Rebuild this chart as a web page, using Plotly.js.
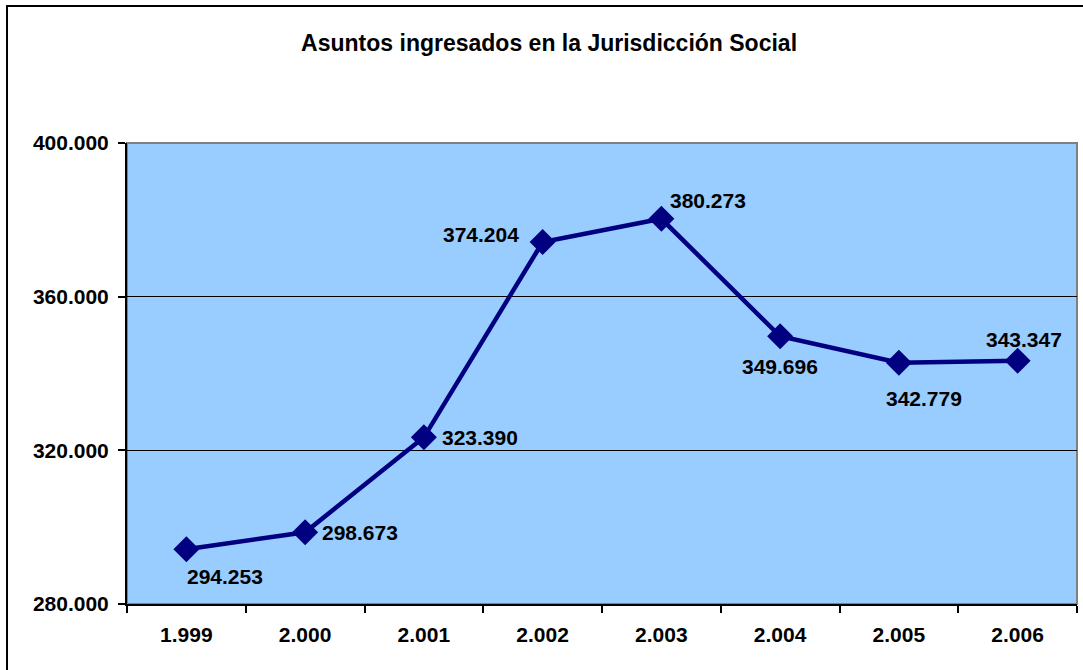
<!DOCTYPE html>
<html>
<head>
<meta charset="utf-8">
<script src="https://cdn.plot.ly/plotly-3.0.1.min.js"></script>
<style>html,body{margin:0;padding:0;background:#fff;}#chart{width:1083px;height:670px;}</style>
</head>
<body>
<div id="chart"></div>
<script>
const years = ["1.999","2.000","2.001","2.002","2.003","2.004","2.005","2.006"];
const asuntos = [294253, 298673, 323390, 374204, 380273, 349696, 342779, 343347];
const yTicks = [280000, 320000, 360000, 400000];

function fmt(v){ return String(v).replace(/\B(?=(\d{3})+(?!\d))/g, "."); }

// label offsets (pixels) per point
const labelShift = [[39,-27],[55,0],[56,0],[-62,8],[47,18],[0,-30],[25,-36],[6,21]];

const FONT = 'Liberation Sans, Arial, sans-serif';

const trace = {
  x: years, y: asuntos, type: 'scatter', mode: 'lines+markers',
  line: {color: '#000080', width: 4.5},
  marker: {symbol: 'diamond', size: 20, color: '#000080'},
  cliponaxis: false, hoverinfo: 'skip'
};

const annotations = years.map((yr, i) => ({
  x: i, y: asuntos[i], xref: 'x', yref: 'y', text: '<b>' + fmt(asuntos[i]) + '</b>', showarrow: false,
  xshift: labelShift[i][0], yshift: labelShift[i][1],
  font: {family: FONT, size: 21, color: '#000'}
}));

const layout = {
  width: 1083, height: 670,
  margin: {l: 127, r: 6, t: 143, b: 66},
  paper_bgcolor: '#ffffff', plot_bgcolor: '#99CCFF',
  separators: ',.',
  showlegend: false,
  title: {text: '<b>Asuntos ingresados en la Jurisdicción Social</b>', x: 0.507, xanchor: 'center', y: 0.936, yanchor: 'middle',
          font: {family: FONT, size: 23, color: '#000'}},
  xaxis: {
    type: 'category', showgrid: false, zeroline: false,
    showline: true, linecolor: '#000', linewidth: 2,
    ticks: 'outside', tickson: 'boundaries', ticklen: 7, tickwidth: 2, tickcolor: '#000',
    ticklabelstandoff: 11,
    tickfont: {family: FONT, size: 21, color: '#000', weight: 'bold'},
    range: [-0.5, 7.5], fixedrange: true
  },
  yaxis: {
    range: [280000, 400000], tickvals: yTicks, tickformat: ',d',
    showgrid: true, gridcolor: '#000', gridwidth: 1, zeroline: false,
    showline: true, linecolor: '#000', linewidth: 2,
    ticks: 'outside', ticklen: 7, tickwidth: 2, tickcolor: '#000',
    ticklabelstandoff: 5,
    tickfont: {family: FONT, size: 21, color: '#000', weight: 'bold'},
    fixedrange: true
  },
  shapes: [
    {type: 'rect', xref: 'paper', yref: 'paper', x0: 0, x1: 1, y0: 0, y1: 1, line: {color: '#808080', width: 2}, layer: 'below'},
    {type: 'rect', xref: 'paper', yref: 'paper', x0: -0.1263, x1: 1.2, y0: -0.5, y1: 1.297, line: {color: '#000', width: 2}}
  ],
  annotations: annotations
};

Plotly.newPlot('chart', [trace], layout, {displayModeBar: false, staticPlot: true});
</script>
</body>
</html>
